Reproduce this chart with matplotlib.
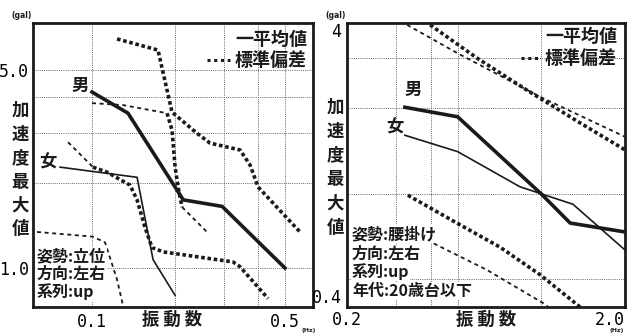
import matplotlib
matplotlib.use("Agg")
import matplotlib.pyplot as plt

plt.rcParams['font.family'] = ['Noto Sans CJK JP', 'DejaVu Sans']

# ---------------- 立位 (left panel) ----------------
stand_male_freq = [0.100, 0.135, 0.214, 0.296, 0.500]
stand_male_acc = [4.18, 3.52, 1.74, 1.65, 1.00]
stand_female_freq = [0.0766, 0.1456, 0.1664, 0.200]
stand_female_acc = [2.27, 2.09, 1.07, 0.80]
# standard deviation bands
stand_sd1_freq = [0.1232, 0.1734, 0.1949, 0.2401, 0.2677, 0.3438, 0.3737, 0.400, 0.567]
stand_sd1_acc = [6.44, 5.88, 3.55, 2.99, 2.76, 2.61, 2.31, 1.93, 1.34]
stand_sd2_freq = [0.100, 0.1295, 0.187, 0.1949, 0.200, 0.205, 0.212, 0.261]
stand_sd2_acc = [3.82, 3.76, 3.52, 3.07, 2.27, 1.93, 1.64, 1.34]
stand_sd3_freq = [0.0819, 0.1008, 0.1133, 0.1373, 0.1456, 0.1556, 0.165, 0.1808, 0.3243, 0.3438, 0.4343]
stand_sd3_acc = [2.78, 2.27, 2.18, 1.96, 1.74, 1.39, 1.18, 1.14, 1.05, 1.01, 0.78]
stand_sd4_freq = [0.0632, 0.1008, 0.1115, 0.1232, 0.1306]
stand_sd4_acc = [1.34, 1.29, 1.23, 0.91, 0.71]

# ---------------- 腰掛け (right panel) ----------------
seat_male_freq = [0.323, 0.500, 1.000, 1.27, 2.00]
seat_male_acc = [2.02, 1.87, 1.00, 0.79, 0.735]
seat_female_freq = [0.323, 0.500, 0.838, 1.30, 2.00]
seat_female_acc = [1.61, 1.41, 1.06, 0.92, 0.635]
seat_sd1_freq = [0.329, 0.497, 0.989, 2.00]
seat_sd1_acc = [3.94, 3.14, 2.20, 1.59]
seat_sd2_freq = [0.398, 0.587, 0.888, 1.378, 2.00]
seat_sd2_acc = [3.94, 3.01, 2.32, 1.78, 1.43]
seat_sd3_freq = [0.331, 0.497, 0.710, 0.989, 1.378]
seat_sd3_acc = [0.99, 0.79, 0.65, 0.52, 0.40]
seat_sd4_freq = [0.329, 0.421, 0.638, 1.014, 1.06]
seat_sd4_acc = [0.753, 0.661, 0.54, 0.413, 0.40]

left_xticks = [0.1, 0.2, 0.3, 0.4, 0.5]
left_xlabels = ['0.1', '', '', '', '0.5']
left_yticks = [1, 2, 3, 4, 5]
left_ylabels = ['1.0', '', '', '', '5.0']
right_xticks = [0.2, 0.3, 0.4, 0.5, 1.0, 2.0]
right_xlabels = ['0.2', '', '', '', '', '2.0']
right_yticks = [0.4, 0.5, 1, 2, 3, 4]
right_ylabels = ['0.4', '', '', '', '', '4']

left_info = ['姿勢:立位', '方向:左右', '系列:up']
right_info = ['姿勢:腰掛け', '方向:左右', '系列:up', '年代:20歳台以下']

W, H = 628, 333
fig = plt.figure(figsize=(W / 100, H / 100), dpi=100)

LBOX = (33, 313, 23, 307)
RBOX = (347, 625, 23, 307)


def make_axes(box):
    x0, x1, y0, y1 = box
    return fig.add_axes([x0 / W, 1 - y1 / H, (x1 - x0) / W, (y1 - y0) / H])


def frac(box, px, py):
    x0, x1, y0, y1 = box
    return (px - x0) / (x1 - x0), (y1 - py) / (y1 - y0)


INK = '#1a1a1a'
NUMFONT = dict(family='DejaVu Sans Mono', size=12)
THICK_DOT = dict(color=INK, lw=2.6, ls=(0, (1.0, 0.75)), dash_capstyle='butt')
THIN_DASH = dict(color=INK, lw=1.3, ls=(0, (2.2, 2.0)))


def style_axes(ax, xlim, ylim, xt, xl, yt, yl):
    ax.set_xscale('log')
    ax.set_yscale('log')
    ax.set_xlim(*xlim)
    ax.set_ylim(*ylim)
    ax.xaxis.set_minor_locator(plt.NullLocator())
    ax.yaxis.set_minor_locator(plt.NullLocator())
    ax.set_xticks(xt)
    ax.set_xticklabels(xl, fontdict=NUMFONT)
    ax.set_yticks(yt)
    ax.set_yticklabels(yl, fontdict=NUMFONT)
    ax.tick_params(length=0, pad=3)
    ax.grid(True, color='#666666', lw=0.7, ls=(0, (1, 1.2)))
    for s in ax.spines.values():
        s.set_linewidth(2.0)
        s.set_color(INK)


# ---------- left panel ----------
axL = make_axes(LBOX)
style_axes(axL, (0.0611, 0.632), (0.728, 7.33), left_xticks, left_xlabels,
           left_yticks, left_ylabels)
axL.tick_params(axis='x', pad=4)

axL.plot(stand_male_freq, stand_male_acc, color=INK, lw=2.6, solid_joinstyle='miter')
axL.plot(stand_female_freq, stand_female_acc, color=INK, lw=1.2)
axL.plot(stand_sd1_freq, stand_sd1_acc, **THICK_DOT)
axL.plot(stand_sd2_freq[:3], stand_sd2_acc[:3], **THIN_DASH)
axL.plot(stand_sd2_freq[2:7], stand_sd2_acc[2:7], **THICK_DOT)
axL.plot(stand_sd2_freq[6:], stand_sd2_acc[6:], **THIN_DASH)
axL.plot(stand_sd3_freq[:2], stand_sd3_acc[:2], **THIN_DASH)
axL.plot(stand_sd3_freq[1:], stand_sd3_acc[1:], **THICK_DOT)
axL.plot(stand_sd4_freq, stand_sd4_acc, **THIN_DASH)

# ---------- right panel ----------
axR = make_axes(RBOX)
style_axes(axR, (0.2, 2.0), (0.4, 4.0), right_xticks, right_xlabels,
           right_yticks, right_ylabels)
axR.tick_params(axis='x', pad=3)
axR.tick_params(axis='y', pad=4)
ylab = axR.get_yticklabels()
ylab[0].set_verticalalignment('bottom')
ylab[-1].set_verticalalignment('top')
xlab = axR.get_xticklabels()
xlab[-1].set_horizontalalignment('right')

axR.plot(seat_male_freq, seat_male_acc, color=INK, lw=2.6)
axR.plot(seat_female_freq, seat_female_acc, color=INK, lw=1.2)
axR.plot(seat_sd1_freq, seat_sd1_acc, **THIN_DASH)
axR.plot(seat_sd2_freq, seat_sd2_acc, **THICK_DOT)
axR.plot(seat_sd3_freq, seat_sd3_acc, **THICK_DOT)
axR.plot(seat_sd4_freq, seat_sd4_acc, **THIN_DASH)

# ---------- annotations inside the panels ----------
CJK = dict(fontweight='bold', color=INK)
for ax, box, leg_x, leg_y1, leg_y2, dots in (
        (axL, LBOX, 307, 39, 60, (207, 230)),
        (axR, RBOX, 617, 36, 58, (521, 540))):
    x, y = frac(box, leg_x, leg_y1)
    ax.text(x, y, '一平均値', transform=ax.transAxes, ha='right', va='center',
            fontsize=13, **CJK)
    x, y = frac(box, leg_x, leg_y2)
    ax.text(x, y, '標準偏差', transform=ax.transAxes, ha='right', va='center',
            fontsize=13, **CJK)
    xa, _ = frac(box, dots[0], leg_y2)
    xb, _ = frac(box, dots[1], leg_y2)
    ax.plot([xa, xb], [y, y], transform=ax.transAxes, color=INK, lw=2.2,
            ls=(0, (1, 1.2)), clip_on=False)

for ax, box, pos in ((axL, LBOX, {'男': (80, 86), '女': (48, 163)}),
                     (axR, RBOX, {'男': (413, 90), '女': (395, 128)})):
    for s, (px, py) in pos.items():
        x, y = frac(box, px, py)
        ax.text(x, y, s, transform=ax.transAxes, ha='center', va='center',
                fontsize=12.5, **CJK)

for ax, box, lines, x0, ys in ((axL, LBOX, left_info, 37, (256, 274, 292)),
                               (axR, RBOX, right_info, 352, (234, 254, 272, 291))):
    for s, py in zip(lines, ys):
        x, y = frac(box, x0, py)
        ax.text(x, y, s, transform=ax.transAxes, ha='left', va='center',
                fontsize=11.5, zorder=5,
                bbox=dict(facecolor='white', edgecolor='none', pad=0.6), **CJK)

# ---------- labels outside the panels ----------
for px, ys in ((20, (111, 135, 158, 182, 206, 229)),
               (335, (108, 132, 155, 179, 204, 228))):
    for ch, py in zip('加速度最大値', ys):
        fig.text(px / W, 1 - py / H, ch, ha='center', va='center',
                 fontsize=12.5, **CJK)

for px, py in ((22, 15), (336, 15)):
    fig.text(px / W, 1 - py / H, '(gal)', ha='center', va='center',
             fontsize=5.5, color=INK, family='DejaVu Sans', fontweight='bold')
for px in (309, 617):
    fig.text(px / W, 0.0, '(Hz)', ha='center', va='bottom',
             fontsize=4.5, color=INK, family='DejaVu Sans', fontweight='bold')

for px in (172, 486):
    fig.text(px / W, 1 - 320 / H, '振 動 数', ha='center', va='center',
             fontsize=12.5, **CJK)

fig.savefig('out.png', dpi=100)
